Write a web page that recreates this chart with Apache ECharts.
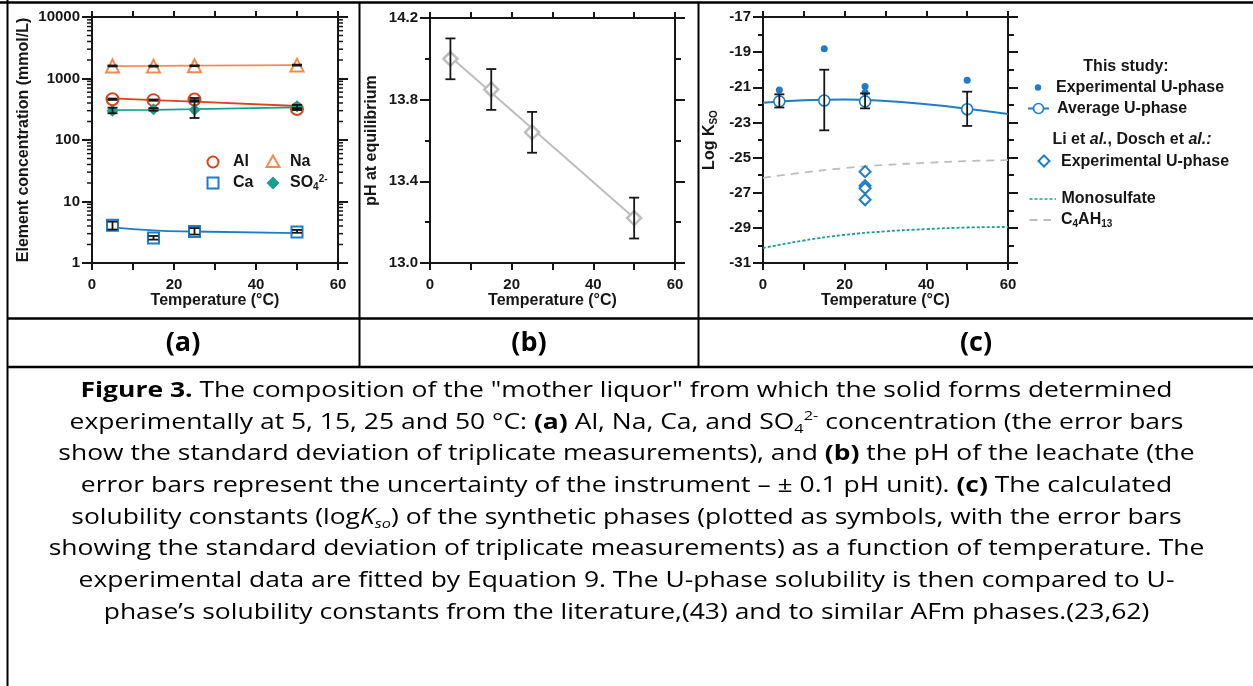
<!DOCTYPE html>
<html>
<head>
<meta charset="utf-8">
<script src="https://cdn.jsdelivr.net/npm/echarts@6/dist/echarts.min.js"></script>
<style>
  html, body { margin: 0; padding: 0; background: #fff; }
  #chart { width: 1253px; height: 686px; }
</style>
</head>
<body>
<div id="chart"></div>
<script>
// ---------- (a) leachate composition, mmol/L ----------
const tempA = [5, 15, 25, 50];
const alMean = [460, 445, 455, 320];
const alLow = [448, 435, 418, 312];
const alHigh = [472, 456, 482, 330];
const naMean = [1600, 1590, 1610, 1650];
const naLow = [1570, 1560, 1585, 1620];
const naHigh = [1630, 1620, 1635, 1680];
const caMean = [4.1, 2.55, 3.25, 3.2];
const caLow = [3.5, 2.4, 2.9, 3.1];
const caHigh = [4.7, 2.75, 3.7, 3.45];
const so4Mean = [300, 315, 310, 355];
const so4Low = [272, 300, 228, 308];
const so4High = [335, 330, 445, 372];
// fitted trends through the four temperatures
const naFit = [1590, 1600, 1615, 1650];
const alFit = [475, 446, 420, 357];
const caFit = [3.8, 3.4, 3.25, 3.05];
const so4Fit = [305, 310, 318, 340];
const concTicks = [1, 10, 100, 1000, 10000];
const logMantissas = [2, 3, 4, 5, 6, 7, 8, 9];

// ---------- (b) pH at equilibrium ----------
const tempB = [5, 15, 25, 50];
const phMean = [14.0, 13.85, 13.64, 13.22];
const phLow = [13.9, 13.75, 13.54, 13.12];
const phHigh = [14.1, 13.95, 13.74, 13.32];
const phFitT = [5, 50];
const phFit = [14.01, 13.22];
const phTicks = [13.0, 13.4, 13.8, 14.2];

// ---------- (c) solubility constants, log Kso ----------
const expT = [4, 15, 25, 25, 50];
const expLogK = [-21.15, -18.8, -20.95, -21.3, -20.6];
const avgT = [4, 15, 25, 50];
const avgLogK = [-21.8, -21.75, -21.8, -22.25];
const avgLow = [-22.15, -23.45, -22.2, -23.2];
const avgHigh = [-21.4, -20.0, -21.35, -21.25];
const curveT = [0, 10, 20, 30, 40, 50, 60];
const uPhaseFit = [-21.88, -21.74, -21.70, -21.78, -21.97, -22.22, -22.52];
const c4ah13 = [-26.15, -25.85, -25.6, -25.42, -25.3, -25.2, -25.15];
const monosulfate = [-30.15, -29.72, -29.4, -29.2, -29.07, -28.98, -28.95];
const liT = [25, 25, 25, 25];
const liLogK = [-25.8, -26.6, -26.75, -27.4];
const logKTicks = [-31, -29, -27, -25, -23, -21, -19, -17];

const tempTicks = [0, 20, 40, 60];

// ---------- caption ----------
const captionLines = [
  '{b|Figure 3.}{r| The composition of the "mother liquor" from which the solid forms determined}',
  '{r|experimentally at 5, 15, 25 and 50 °C: }{b|(a)}{r| Al, Na, Ca, and SO}{sub|4}{sup|2-}{r| concentration (the error bars}',
  '{r|show the standard deviation of triplicate measurements), and }{b|(b)}{r| the pH of the leachate (the}',
  '{r|error bars represent the uncertainty of the instrument – ± 0.1 pH unit). }{b|(c)}{r| The calculated}',
  '{r|solubility constants (log}{i|K}{isub|so}{r|) of the synthetic phases (plotted as symbols, with the error bars}',
  '{r|showing the standard deviation of triplicate measurements) as a function of temperature. The}',
  '{r|experimental data are fitted by Equation 9. The U-phase solubility is then compared to U-}',
  '{r|phase’s solubility constants from the literature,(43) and to similar AFm phases.(23,62)}'
];
const panelLabels = ['(a)', '(b)', '(c)'];

// ---------- styling ----------
const INK = '#161616';
const AXF = "'Liberation Sans', Arial, Helvetica, sans-serif";
const CAPF = "'Open Sans', 'Noto Sans', sans-serif";
const AL = '#d9431e';
const NA = '#f28b4f';
const CA = '#1e7cc8';
const SO4 = '#17a08b';
const UBLUE = '#1f7cc6';
const GREY = '#bdbdbd';

const pair = (xs, ys) => xs.map((x, i) => [x, ys[i]]);
const triple = (xs, lo, hi) => xs.map((x, i) => [x, lo[i], hi[i]]);

const labelStyle = { color: INK, fontFamily: AXF, fontWeight: 'bold', fontSize: 15 };
const nameStyle = { color: INK, fontFamily: AXF, fontWeight: 'bold', fontSize: 16 };
const lineSt = { color: INK, width: 2 };

function tempAxes(g) {
  const base = {
    type: 'value', gridIndex: g,
    min: tempTicks[0], max: tempTicks[tempTicks.length - 1],
    interval: tempTicks[1] - tempTicks[0],
    axisLine: { show: true, onZero: false, lineStyle: lineSt },
    splitLine: { show: false }, minorSplitLine: { show: false }
  };
  return [
    Object.assign({}, base, {
      position: 'bottom',
      axisTick: { show: true, length: 7, lineStyle: lineSt },
      minorTick: { show: true, splitNumber: 2, length: 7, lineStyle: lineSt },
      axisLabel: Object.assign({ margin: 14 }, labelStyle),
      name: 'Temperature (°C)', nameLocation: 'middle', nameGap: 30,
      nameMoveOverlap: false, nameTextStyle: nameStyle
    }),
    Object.assign({}, base, {
      position: 'top',
      axisTick: { show: true, length: 6, lineStyle: lineSt },
      minorTick: { show: true, splitNumber: 2, length: 6, lineStyle: lineSt },
      axisLabel: { show: false }
    })
  ];
}

function valueAxes(g, ticks, fmt, name, gap, rich) {
  const base = {
    type: 'value', gridIndex: g,
    min: ticks[0], max: ticks[ticks.length - 1], interval: ticks[1] - ticks[0],
    axisLine: { show: true, onZero: false, lineStyle: lineSt },
    axisTick: { show: true, length: 10, lineStyle: lineSt },
    splitLine: { show: false }, minorSplitLine: { show: false }
  };
  return [
    Object.assign({}, base, {
      position: 'left',
      minorTick: { show: true, splitNumber: 2, length: 5, lineStyle: lineSt },
      axisLabel: Object.assign({ margin: 12, formatter: fmt }, labelStyle),
      name: name, nameLocation: 'middle', nameGap: gap, nameMoveOverlap: false,
      nameTextStyle: Object.assign({ rich: rich || {} }, nameStyle)
    }),
    Object.assign({}, base, {
      position: 'right',
      minorTick: { show: true, splitNumber: 2, length: 6, lineStyle: lineSt },
      axisLabel: { show: false }
    })
  ];
}

function logAxes(g) {
  const base = {
    type: 'log', logBase: 10, gridIndex: g,
    min: concTicks[0], max: concTicks[concTicks.length - 1], splitNumber: concTicks.length - 1,
    axisLine: { show: true, onZero: false, lineStyle: lineSt },
    axisTick: { show: true, length: 10, lineStyle: lineSt },
    minorTick: { show: false },
    splitLine: { show: false }, minorSplitLine: { show: false }
  };
  return [
    Object.assign({}, base, {
      position: 'left',
      axisLabel: Object.assign({ margin: 12, formatter: v => String(Math.round(v)) }, labelStyle),
      name: 'Element concentration (mmol/L)', nameLocation: 'middle', nameGap: 60,
      nameMoveOverlap: false, nameTextStyle: nameStyle
    }),
    Object.assign({}, base, { position: 'right', axisLabel: { show: false } })
  ];
}

// vertical error bars with caps, drawn from [x, low, high] rows
function errorBars(xi, yi, rows, half) {
  return {
    type: 'custom', xAxisIndex: xi, yAxisIndex: yi, data: rows, z: 6, silent: true,
    renderItem(params, api) {
      const x = api.value(0);
      const a = api.coord([x, api.value(1)]);
      const b = api.coord([x, api.value(2)]);
      const st = { stroke: INK, lineWidth: 1.8 };
      return {
        type: 'group', children: [
          { type: 'line', shape: { x1: a[0], y1: a[1], x2: b[0], y2: b[1] }, style: st },
          { type: 'line', shape: { x1: a[0] - half, y1: a[1], x2: a[0] + half, y2: a[1] }, style: st },
          { type: 'line', shape: { x1: b[0] - half, y1: b[1], x2: b[0] + half, y2: b[1] }, style: st }
        ]
      };
    }
  };
}

// logarithmic minor ticks on both sides of the concentration axis
const concMinor = [];
concTicks.slice(0, -1).forEach(d => logMantissas.forEach(m => concMinor.push(d * m)));
const logMinorSeries = {
  type: 'custom', xAxisIndex: 0, yAxisIndex: 0, silent: true, clip: false, z: 1,
  data: concMinor.map(v => [tempTicks[0], v]),
  renderItem(params, api) {
    const cs = params.coordSys;
    const y = api.coord([api.value(0), api.value(1)])[1];
    const st = { stroke: INK, lineWidth: 1.5 };
    return {
      type: 'group', children: [
        { type: 'line', shape: { x1: cs.x - 5, y1: y, x2: cs.x, y2: y }, style: st },
        { type: 'line', shape: { x1: cs.x + cs.width, y1: y, x2: cs.x + cs.width + 5, y2: y }, style: st }
      ]
    };
  }
};

function fitLine(xi, yi, xs, ys, color, width, extra) {
  return Object.assign({
    type: 'line', xAxisIndex: xi, yAxisIndex: yi, data: pair(xs, ys),
    symbol: 'none', showSymbol: false, silent: true, z: 2,
    lineStyle: { color: color, width: width }
  }, extra || {});
}

function markers(xi, yi, xs, ys, symbol, size, fill, stroke, bw, z) {
  return {
    type: 'scatter', xAxisIndex: xi, yAxisIndex: yi, data: pair(xs, ys),
    symbol: symbol, symbolSize: size, silent: true, z: z || 4,
    itemStyle: { color: fill, borderColor: stroke, borderWidth: bw, opacity: 1 }
  };
}

// ---------- decorations: frame table, legends, panel labels, caption ----------
const T = (x, y, text, opt) => ({
  type: 'text', x: x, y: y, silent: true, z: 100,
  style: Object.assign({
    text: text, fill: INK, font: 'bold 16px ' + AXF,
    textAlign: 'left', align: 'left', textVerticalAlign: 'middle', verticalAlign: 'middle'
  }, opt || {})
});
const L = (x1, y1, x2, y2, stroke, w, dash) => ({
  type: 'line', silent: true, z: 100,
  shape: { x1: x1, y1: y1, x2: x2, y2: y2 },
  style: { stroke: stroke, lineWidth: w, lineDash: dash || null }
});

const decor = [
  L(0, 2.5, 1253, 2.5, '#000', 2.5),
  L(7.5, 0, 7.5, 686, '#000', 2),
  L(359.5, 2, 359.5, 367, '#000', 2),
  L(698.5, 2, 698.5, 367, '#000', 2),
  L(7, 318.5, 1253, 318.5, '#000', 2.5),
  L(7, 367, 1253, 367, '#000', 2.5)
];

// legend of panel (a)
const richAx = {
  n: { fontFamily: AXF, fontWeight: 'bold', fontSize: 16, color: INK, lineHeight: 18 },
  sub: { fontFamily: AXF, fontWeight: 'bold', fontSize: 10, color: INK, verticalAlign: 'bottom', lineHeight: 10 },
  sup: { fontFamily: AXF, fontWeight: 'bold', fontSize: 10, color: INK, verticalAlign: 'top', lineHeight: 10 },
  it: { fontFamily: AXF, fontWeight: 'bold', fontStyle: 'italic', fontSize: 16, color: INK, lineHeight: 18 }
};
decor.push(
  { type: 'circle', silent: true, z: 100, shape: { cx: 213, cy: 162, r: 5.5 }, style: { fill: '#fff', stroke: AL, lineWidth: 2 } },
  T(233, 162, 'Al'),
  { type: 'polygon', silent: true, z: 100, shape: { points: [[273, 155.5], [279.5, 167], [266.5, 167]] }, style: { fill: '#fff', stroke: NA, lineWidth: 2 } },
  T(290, 162, 'Na'),
  { type: 'rect', silent: true, z: 100, shape: { x: 207.5, y: 177.5, width: 11, height: 11 }, style: { fill: '#fff', stroke: CA, lineWidth: 2 } },
  T(233, 183, 'Ca'),
  { type: 'polygon', silent: true, z: 100, shape: { points: [[273, 176.5], [279.5, 183], [273, 189.5], [266.5, 183]] }, style: { fill: SO4 } },
  T(290, 183, '{n|SO}{sub|4}{sup|2-}', { rich: richAx })
);

// legend of panel (c)
decor.push(
  T(1126, 67, 'This study:', { textAlign: 'center', align: 'center' }),
  { type: 'circle', silent: true, z: 100, shape: { cx: 1038, cy: 87.5, r: 3.2 }, style: { fill: UBLUE } },
  T(1056, 88, 'Experimental U-phase'),
  L(1028, 108.5, 1049, 108.5, UBLUE, 2),
  { type: 'circle', silent: true, z: 101, shape: { cx: 1038.5, cy: 108.5, r: 5 }, style: { fill: '#fff', stroke: UBLUE, lineWidth: 1.6 } },
  T(1057, 109, 'Average U-phase'),
  T(1132, 140, '{n|Li et }{it|al.}{n|, Dosch et }{it|al.:}', { textAlign: 'center', align: 'center', rich: richAx }),
  { type: 'polygon', silent: true, z: 100, shape: { points: [[1044, 155.5], [1049.5, 161], [1044, 166.5], [1038.5, 161]] }, style: { fill: '#fff', stroke: UBLUE, lineWidth: 2 } },
  T(1061, 161.5, 'Experimental U-phase'),
  L(1029.5, 199, 1056, 199, SO4, 1.6, [3, 2]),
  T(1061.5, 199, 'Monosulfate'),
  L(1029.5, 220, 1051, 220, GREY, 1.8, [8, 6]),
  T(1061, 220, '{n|C}{sub|4}{n|AH}{sub|13}', { rich: richAx })
);

// panel labels under each plot
const labelCenters = [183, 529, 976];
panelLabels.forEach((s, i) => {
  decor.push(T(labelCenters[i], 343, s, {
    font: 'bold 27px ' + CAPF, fill: '#000', textAlign: 'center', align: 'center'
  }));
});

// caption: one centred text element per line, drawn slightly widened
const capSize = 21;
const capScaleX = 1.26;
const capRich = {
  r: { fontFamily: CAPF, fontSize: capSize, color: '#000', lineHeight: 26 },
  b: { fontFamily: CAPF, fontSize: capSize, fontWeight: 'bold', color: '#000', lineHeight: 26 },
  i: { fontFamily: CAPF, fontSize: capSize, fontStyle: 'italic', color: '#000', lineHeight: 26 },
  sub: { fontFamily: CAPF, fontSize: 13, color: '#000', verticalAlign: 'bottom', lineHeight: 13 },
  isub: { fontFamily: CAPF, fontSize: 13, fontStyle: 'italic', color: '#000', verticalAlign: 'bottom', lineHeight: 13 },
  sup: { fontFamily: CAPF, fontSize: 13, color: '#000', verticalAlign: 'top', lineHeight: 13 }
};
captionLines.forEach((line, i) => {
  decor.push({
    type: 'text', silent: true, z: 100,
    x: 626.5, y: 391 + i * 31.7, scaleX: capScaleX, scaleY: 1,
    style: {
      text: line, rich: capRich, fill: '#000', font: capSize + 'px ' + CAPF,
      textAlign: 'center', align: 'center', textVerticalAlign: 'middle', verticalAlign: 'middle'
    }
  });
});

// ---------- chart ----------
const [xa0, xa1] = tempAxes(0);
const [xb0, xb1] = tempAxes(1);
const [xc0, xc1] = tempAxes(2);
const [ya0, ya1] = logAxes(0);
const [yb0, yb1] = valueAxes(1, phTicks, v => v.toFixed(1), 'pH at equilibrium', 50);
const [yc0, yc1] = valueAxes(2, logKTicks, v => String(Math.round(v)), '{m|Log K}{s|SO}', 44, {
  m: { fontFamily: AXF, fontWeight: 'bold', fontSize: 16, color: INK, lineHeight: 18 },
  s: { fontFamily: AXF, fontWeight: 'bold', fontSize: 10, color: INK, verticalAlign: 'bottom', lineHeight: 10 }
});

const option = {
  animation: false,
  backgroundColor: '#ffffff',
  textStyle: { fontFamily: AXF },
  grid: [
    { left: 92, top: 17, width: 246, height: 246, outerBoundsMode: 'none', containLabel: false },
    { left: 430, top: 18, width: 245, height: 245, outerBoundsMode: 'none', containLabel: false },
    { left: 763, top: 17, width: 245, height: 246, outerBoundsMode: 'none', containLabel: false }
  ],
  xAxis: [xa0, xa1, xb0, xb1, xc0, xc1],
  yAxis: [ya0, ya1, yb0, yb1, yc0, yc1],
  series: [
    // (a)
    logMinorSeries,
    fitLine(0, 0, tempA, naFit, NA, 1.8),
    fitLine(0, 0, tempA, alFit, AL, 1.8),
    fitLine(0, 0, tempA, so4Fit, SO4, 1.8),
    fitLine(0, 0, tempA, caFit, CA, 1.8, { smooth: true }),
    markers(0, 0, tempA, naMean, 'triangle', 13, '#fff', NA, 2),
    markers(0, 0, tempA, alMean, 'circle', 12, '#fff', AL, 2),
    markers(0, 0, tempA, so4Mean, 'diamond', 12, SO4, SO4, 0),
    markers(0, 0, tempA, caMean, 'rect', 11, '#fff', CA, 2),
    errorBars(0, 0, triple(tempA, naLow, naHigh), 5),
    errorBars(0, 0, triple(tempA, alLow, alHigh), 5),
    errorBars(0, 0, triple(tempA, so4Low, so4High), 5),
    errorBars(0, 0, triple(tempA, caLow, caHigh), 5),
    // (b)
    fitLine(2, 2, phFitT, phFit, GREY, 2),
    markers(2, 2, tempB, phMean, 'diamond', 14, '#fff', GREY, 2.5),
    errorBars(2, 2, triple(tempB, phLow, phHigh), 5),
    // (c)
    fitLine(4, 4, curveT, c4ah13, GREY, 1.8, { smooth: true, lineStyle: { color: GREY, width: 1.8, type: [8, 6] } }),
    fitLine(4, 4, curveT, monosulfate, SO4, 1.8, { smooth: true, lineStyle: { color: SO4, width: 1.8, type: [3, 2] } }),
    fitLine(4, 4, curveT, uPhaseFit, UBLUE, 2, { smooth: true }),
    markers(4, 4, liT, liLogK, 'diamond', 11, '#fff', UBLUE, 2),
    markers(4, 4, expT, expLogK, 'circle', 7, UBLUE, UBLUE, 0),
    markers(4, 4, avgT, avgLogK, 'circle', 11, '#fff', UBLUE, 1.6),
    errorBars(4, 4, triple(avgT, avgLow, avgHigh), 5)
  ],
  graphic: { elements: decor }
};

const chart = echarts.init(document.getElementById('chart'), null, { renderer: 'canvas' });
chart.setOption(option);
</script>
</body>
</html>
